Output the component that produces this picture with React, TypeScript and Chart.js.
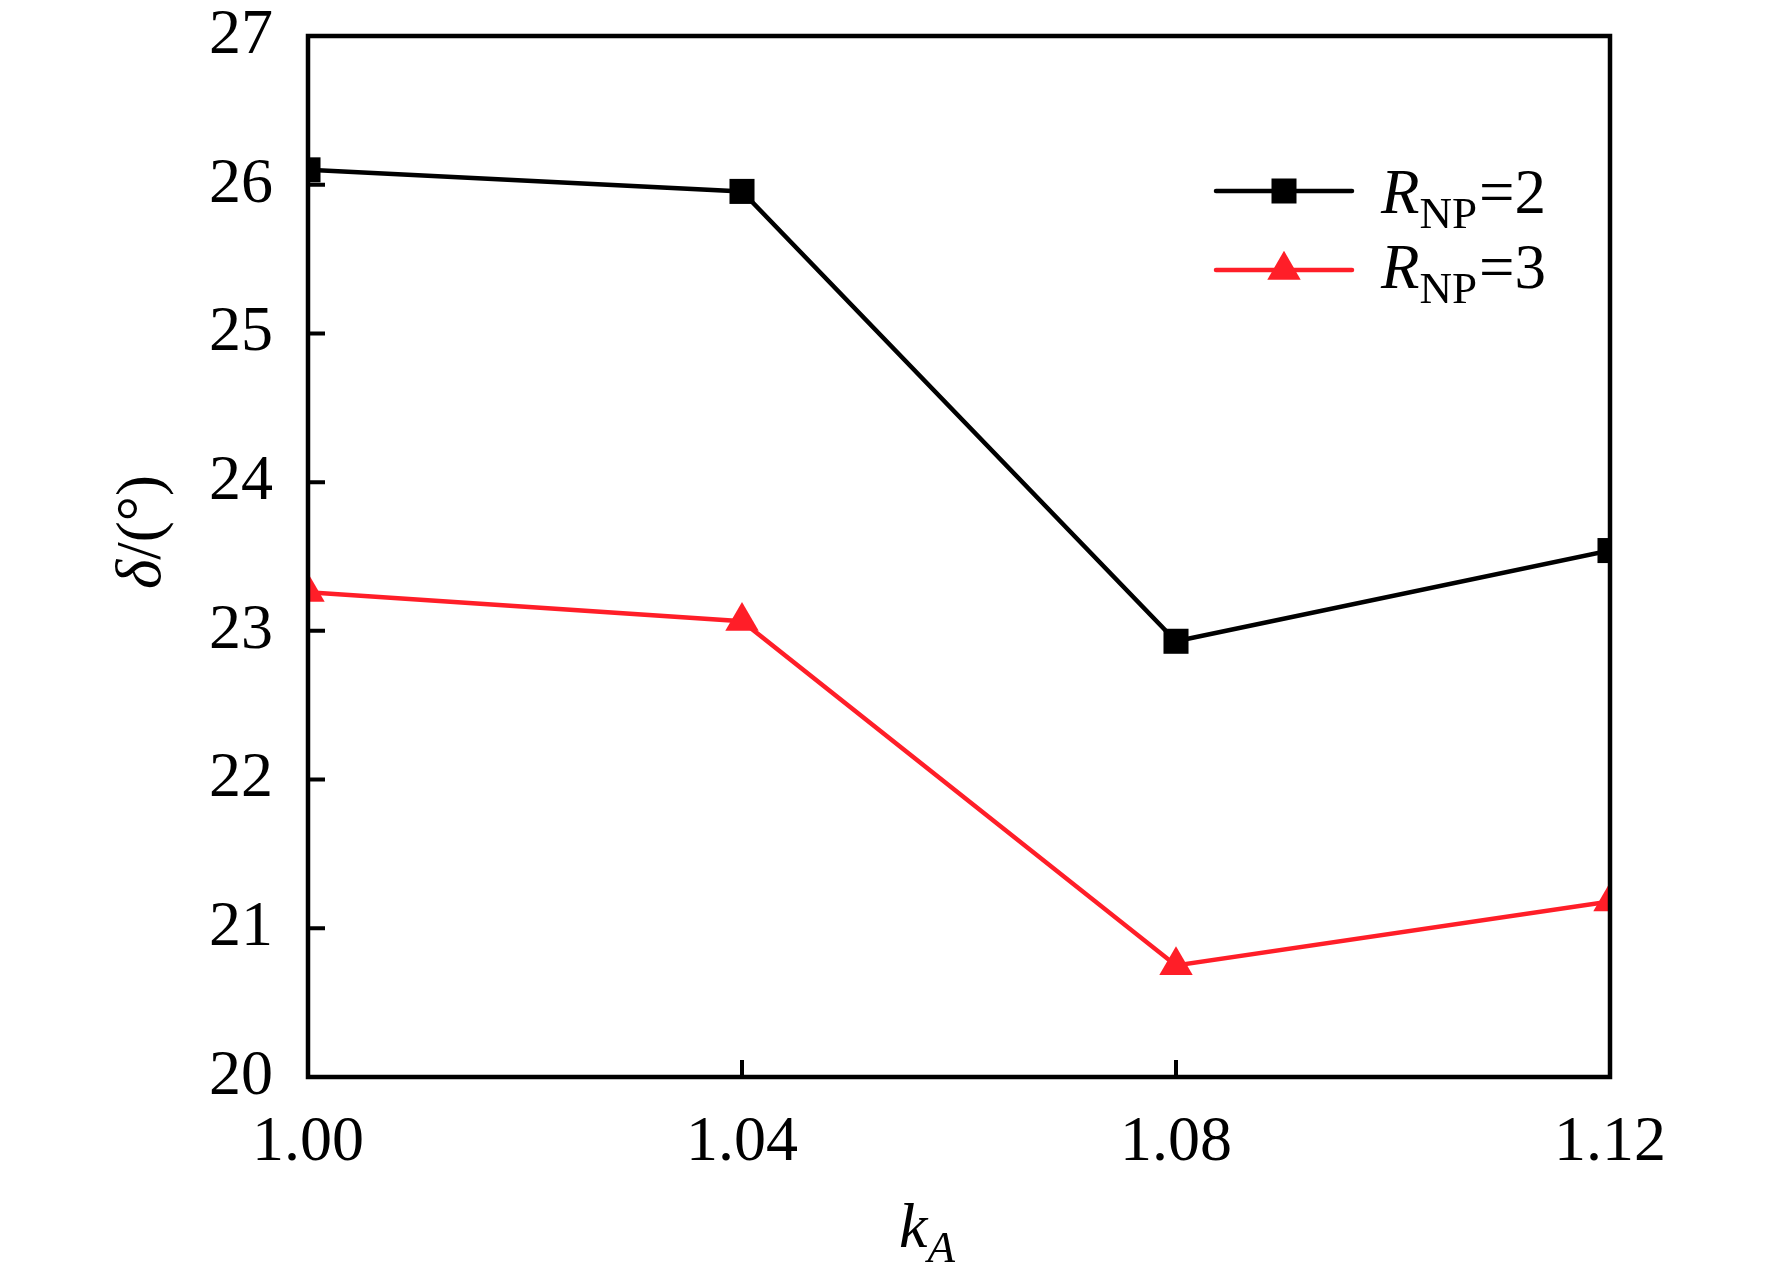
import React, { useEffect, useRef } from 'react';
import { Chart, registerables } from 'chart.js';

Chart.register(...registerables);

// ---- data ----
const kA = [1.0, 1.04, 1.08, 1.12];
const deltaRNP2 = [26.1, 25.955, 22.93, 23.54];
const deltaRNP3 = [23.26, 23.065, 20.75, 21.18];
const xTicks = [1.0, 1.04, 1.08, 1.12];
const yTicks = [20, 21, 22, 23, 24, 25, 26, 27];
const legendMain = ['R', 'R'];
const legendSub = ['NP', 'NP'];
const legendTail = ['=2', '=3'];
const seriesColors = ['#000000', '#FF1E28'];
const seriesMarkers = ['rect', 'triangle'];

const FONT = '"Liberation Serif", "Times New Roman", serif';

const overlay = {
  id: 'overlay',
  afterDatasetsDraw(chart: any) {
    const { ctx, chartArea: a, scales } = chart;
    ctx.save();
    // frame
    ctx.strokeStyle = '#000';
    ctx.lineWidth = 4.5;
    ctx.strokeRect(a.left, a.top, a.right - a.left, a.bottom - a.top);
    // inward ticks
    ctx.lineWidth = 4;
    ctx.beginPath();
    yTicks.forEach((v) => {
      if (v === yTicks[0] || v === yTicks[yTicks.length - 1]) return;
      const y = scales.y.getPixelForValue(v);
      ctx.moveTo(a.left, y);
      ctx.lineTo(a.left + 17, y);
    });
    xTicks.forEach((v) => {
      if (v === xTicks[0] || v === xTicks[xTicks.length - 1]) return;
      const x = scales.x.getPixelForValue(v);
      ctx.moveTo(x, a.bottom);
      ctx.lineTo(x, a.bottom - 17);
    });
    ctx.stroke();

    // legend
    const lineX0 = 1216;
    const lineX1 = 1352;
    const markX = 1284;
    const rowY = [191, 270];
    for (let i = 0; i < legendMain.length; i++) {
      const y = rowY[i];
      ctx.strokeStyle = seriesColors[i];
      ctx.fillStyle = seriesColors[i];
      ctx.lineWidth = 4.5;
      ctx.lineCap = 'round';
      ctx.beginPath();
      ctx.moveTo(lineX0, y);
      ctx.lineTo(lineX1, y);
      ctx.stroke();
      ctx.lineCap = 'butt';
      if (seriesMarkers[i] === 'rect') {
        ctx.fillRect(markX - 12.5, y - 12.5, 25, 25);
      } else {
        const r = 19.3;
        ctx.beginPath();
        ctx.moveTo(markX, y - r);
        ctx.lineTo(markX + r * 0.866, y + r * 0.5);
        ctx.lineTo(markX - r * 0.866, y + r * 0.5);
        ctx.closePath();
        ctx.fill();
      }
      // text
      const base = y + 22 - i * 4;
      ctx.fillStyle = '#000';
      ctx.textBaseline = 'alphabetic';
      ctx.textAlign = 'left';
      let tx = 1381;
      ctx.font = `italic 63px ${FONT}`;
      ctx.fillText(legendMain[i], tx, base);
      tx += ctx.measureText(legendMain[i]).width;
      ctx.font = `45px ${FONT}`;
      ctx.fillText(legendSub[i], tx, base + 15);
      tx += ctx.measureText(legendSub[i]).width + 2;
      ctx.font = `63px ${FONT}`;
      ctx.fillText(legendTail[i], tx, base);
    }

    // x title: k_A
    ctx.fillStyle = '#000';
    ctx.textAlign = 'left';
    ctx.textBaseline = 'alphabetic';
    ctx.font = `italic 64px ${FONT}`;
    const kW = ctx.measureText('k').width;
    ctx.font = `italic 45px ${FONT}`;
    const aW = ctx.measureText('A').width;
    const xt0 = 927 - (kW + aW) / 2;
    ctx.font = `italic 64px ${FONT}`;
    ctx.fillText('k', xt0, 1247);
    ctx.font = `italic 45px ${FONT}`;
    ctx.fillText('A', xt0 + kW, 1262);

    // y title: δ/(°)
    ctx.save();
    ctx.translate(160, 532);
    ctx.rotate(-Math.PI / 2);
    ctx.font = `italic 63px ${FONT}`;
    const dW = ctx.measureText('δ').width;
    ctx.font = `63px ${FONT}`;
    const restW = ctx.measureText('/(°)').width;
    const s0 = -(dW + restW) / 2;
    ctx.font = `italic 63px ${FONT}`;
    ctx.fillText('δ', s0, 0);
    ctx.font = `63px ${FONT}`;
    ctx.fillText('/(°)', s0 + dW, 0);
    ctx.restore();

    ctx.restore();
  },
};

export default function App() {
  const ref = useRef<HTMLCanvasElement | null>(null);
  useEffect(() => {
    if (!ref.current) return;
    const chart = new Chart(ref.current, {
      type: 'line',
      data: {
        datasets: [
          {
            label: 'RNP=2',
            data: kA.map((x, i) => ({ x, y: deltaRNP2[i] })),
            borderColor: seriesColors[0],
            backgroundColor: seriesColors[0],
            borderWidth: 4.5,
            pointStyle: 'rect',
            pointRadius: 17.7,
            pointBorderWidth: 0,
            pointBackgroundColor: seriesColors[0],
            tension: 0,
            clip: 0,
          },
          {
            label: 'RNP=3',
            data: kA.map((x, i) => ({ x, y: deltaRNP3[i] })),
            borderColor: seriesColors[1],
            backgroundColor: seriesColors[1],
            borderWidth: 4.5,
            pointStyle: 'triangle',
            pointRadius: 19.3,
            pointBorderWidth: 0,
            pointBackgroundColor: seriesColors[1],
            tension: 0,
            clip: 0,
          },
        ],
      },
      options: {
        animation: false,
        responsive: false,
        devicePixelRatio: 1,
        layout: { padding: { top: 36, right: 162, left: 0, bottom: 0 } },
        plugins: { legend: { display: false }, tooltip: { enabled: false } },
        events: [],
        scales: {
          x: {
            type: 'linear',
            min: xTicks[0],
            max: xTicks[xTicks.length - 1],
            afterBuildTicks: (s: any) => {
              s.ticks = xTicks.map((v) => ({ value: v }));
            },
            afterFit: (s: any) => {
              s.height = 1281 - 1077;
            },
            ticks: {
              color: '#000',
              font: { family: FONT, size: 64 },
              padding: 28,
              maxRotation: 0,
              autoSkip: false,
              callback: (v: any) => Number(v).toFixed(2),
            },
            grid: { drawOnChartArea: false, drawTicks: false, display: false },
            border: { display: false },
          },
          y: {
            type: 'linear',
            min: yTicks[0],
            max: yTicks[yTicks.length - 1],
            afterBuildTicks: (s: any) => {
              s.ticks = yTicks.map((v) => ({ value: v }));
            },
            afterFit: (s: any) => {
              s.width = 308;
            },
            ticks: {
              color: '#000',
              font: { family: FONT, size: 64, lineHeight: 0.02 },
              padding: 35,
              autoSkip: false,
              callback: (v: any) => String(v),
            },
            grid: { drawOnChartArea: false, drawTicks: false, display: false },
            border: { display: false },
          },
        },
      },
      plugins: [overlay],
    } as any);
    return () => chart.destroy();
  }, []);
  return (
    <div style={{ position: 'absolute', left: 0, top: 0, width: 1772, height: 1281, background: '#fff' }}>
      <canvas ref={ref} width={1772} height={1281} style={{ width: 1772, height: 1281, display: 'block' }} />
    </div>
  );
}
